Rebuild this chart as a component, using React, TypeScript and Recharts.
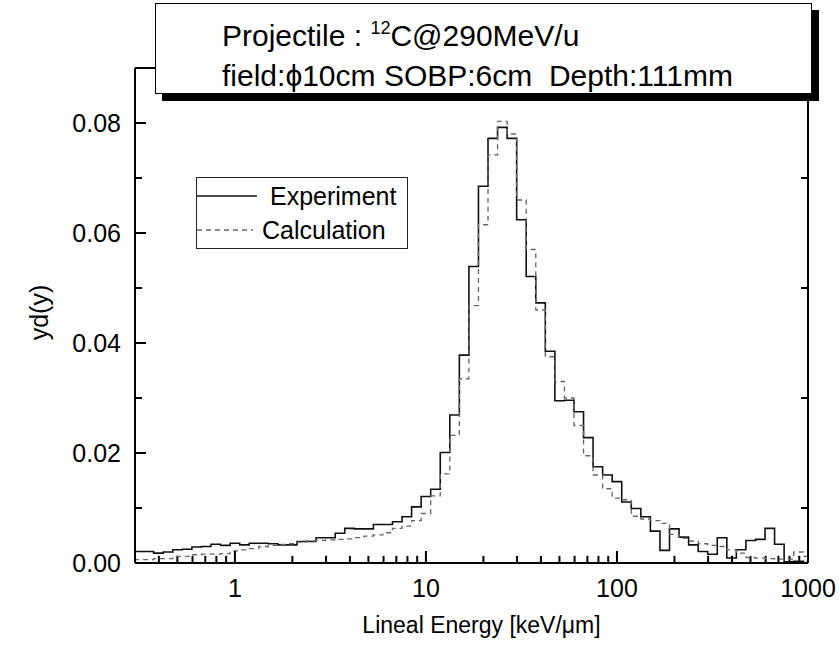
import React from "react";
import { ComposedChart, Legend, Line, ReferenceLine, XAxis, YAxis } from "recharts";

// histogram bins: 20 per decade, bin k centred on 10^(k/20)
const BINS_PER_DECADE = 20;
const FIRST_BIN = -11;

const experiment = [
  0.0021, 0.0021, 0.0021, 0.0018, 0.002, 0.0024, 0.0025, 0.0029, 0.003, 0.0034, 0.0032,
  0.0036, 0.0033, 0.0036, 0.0036, 0.0035, 0.0033, 0.0033, 0.0039, 0.0039, 0.0046,
  0.0046, 0.0054, 0.0063, 0.0062, 0.0062, 0.007, 0.007, 0.0075, 0.0084, 0.0102,
  0.0121, 0.0134, 0.0201, 0.0269, 0.0378, 0.0539, 0.0685, 0.0772, 0.0792, 0.0772,
  0.0624, 0.0521, 0.0473, 0.0385, 0.0295, 0.0296, 0.0275, 0.0228, 0.0175, 0.016,
  0.0148, 0.0111, 0.0099, 0.0084, 0.0058, 0.0023, 0.0062, 0.0047, 0.0033, 0.0021,
  0.0016, 0.0046, 0.0009, 0.0024, 0.0041, 0.0043, 0.0063, 0.0034, 0.0002, 0.0003,
  0.0001,
];

const calculation = [
  0.0006, 0.0006, 0.0006, 0.0008, 0.0008, 0.0012, 0.0012, 0.0015, 0.0016, 0.0016, 0.0017,
  0.0022, 0.0024, 0.0026, 0.003, 0.0032, 0.0034, 0.0035, 0.0038, 0.004, 0.0041,
  0.0042, 0.0043, 0.0044, 0.0046, 0.0049, 0.0051, 0.0055, 0.0063, 0.0067, 0.0077,
  0.009, 0.0122, 0.0162, 0.0232, 0.0335, 0.0468, 0.0615, 0.0742, 0.0803, 0.078,
  0.066, 0.057, 0.046, 0.0375, 0.033, 0.03, 0.025, 0.0195, 0.016, 0.0135,
  0.0118, 0.0115, 0.0085, 0.008, 0.0077, 0.0072, 0.0052, 0.0045, 0.004, 0.0035,
  0.0032, 0.003, 0.0024, 0.0018, 0.001, 0.0009, 0.0008, 0.0007, 0.0007, 0.002,
  0.0012,
];

const legendOrder = ["Experiment", "Calculation"];
const X_DOMAIN: [number, number] = [0.3, 1000];
const Y_DOMAIN: [number, number] = [0, 0.09];
const xMajorTicks = [1, 10, 100, 1000];
const xMinorMultipliers = [2, 3, 4, 5, 6, 7, 8, 9];
const yMajorTicks = [0, 0.02, 0.04, 0.06, 0.08];
const yMinorTicks = [0.01, 0.03, 0.05, 0.07];

const FONT = '"Liberation Sans", Arial, sans-serif';

// minor tick lengths in data units (plot is 495px tall, 673px / 3.52 decades wide)
const MINOR_Y_LEN = 0.0013;
const MINOR_X_FACTOR = 1.088;

const binEdge = (i: number) => 10 ** ((FIRST_BIN + i - 0.5) / BINS_PER_DECADE);

// step points at left bin edges, plus closing right edge
function toSteps(values: number[]) {
  const pts = values.map((y, i) => ({ x: binEdge(i), y }));
  pts.push({ x: binEdge(values.length), y: values[values.length - 1] });
  return pts;
}

const expSteps = toSteps(experiment);
const calcSteps = toSteps(calculation);

const xMinorTicks: number[] = [];
[0.1, 1, 10, 100].forEach((d) =>
  xMinorMultipliers.forEach((m) => {
    const v = +(m * d).toPrecision(3);
    if (v >= 0.3) xMinorTicks.push(v);
  })
);

const BottomLabel = (props: any) => {
  const { x, y, payload } = props;
  return (
    <text x={x} y={y + 46} textAnchor="middle" fontSize={25} fontFamily={FONT} fill="#000">
      {payload.value}
    </text>
  );
};

const LeftLabel = (props: any) => {
  const { x, y, payload } = props;
  return (
    <text x={x - 25} y={y + 9} textAnchor="end" fontSize={25} fontFamily={FONT} fill="#000">
      {payload.value.toFixed(2)}
    </text>
  );
};

const XTitle = (props: any) => {
  const { viewBox } = props;
  return (
    <text
      x={viewBox.x + viewBox.width / 2 + 10}
      y={viewBox.y + 70}
      textAnchor="middle"
      fontSize={23}
      fontFamily={FONT}
      fill="#000"
    >
      Lineal Energy [keV/{"\u03bc"}m]
    </text>
  );
};

const YTitle = (props: any) => {
  const { viewBox } = props;
  const cx = viewBox.x + 39;
  const cy = viewBox.y + viewBox.height / 2 - 3;
  return (
    <text
      x={cx}
      y={cy}
      transform={`rotate(-90 ${cx} ${cy})`}
      textAnchor="middle"
      dominantBaseline="central"
      fontSize={25}
      fontFamily={FONT}
      fill="#000"
    >
      yd(y)
    </text>
  );
};

const LegendBox = (props: any) => {
  const payload = [...(props.payload || [])].sort(
    (a: any, b: any) => legendOrder.indexOf(a.value) - legendOrder.indexOf(b.value)
  );
  return (
    <div
      style={{
        width: 212,
        height: 72,
        boxSizing: "border-box",
        border: "1.5px solid #222",
        background: "#fff",
        fontFamily: FONT,
        fontSize: 25,
        color: "#000",
        paddingTop: 1,
      }}
    >
      {payload.map((entry: any, i: number) => (
        <div key={entry.value} style={{ display: "flex", alignItems: "center", height: 34 }}>
          <svg width={i === 0 ? 60 : 56} height={10} style={{ flex: "none" }}>
            <line
              x1={0}
              x2={i === 0 ? 60 : 56}
              y1={5}
              y2={5}
              stroke={entry.color}
              strokeWidth={1.5}
              strokeDasharray={entry.payload?.strokeDasharray}
            />
          </svg>
          <span style={{ marginLeft: i === 0 ? 13 : 9 }}>{entry.value}</span>
        </div>
      ))}
    </div>
  );
};

const frame = { stroke: "#000", strokeWidth: 2 };

export default function App() {
  return (
    <div style={{ position: "absolute", left: 0, top: 0, width: 839, height: 650, background: "#fff" }}>
      <ComposedChart width={839} height={650} margin={{ top: 0, right: 0, bottom: 0, left: 0 }}>
        <XAxis
          dataKey="x"
          type="number"
          scale="log"
          domain={X_DOMAIN}
          allowDataOverflow
          ticks={xMajorTicks}
          interval={0}
          tickSize={-12}
          tickMargin={0}
          height={87}
          tickLine={frame}
          axisLine={frame}
          tick={<BottomLabel />}
          label={<XTitle />}
        />
        <XAxis
          xAxisId="top"
          orientation="top"
          dataKey="x"
          type="number"
          scale="log"
          domain={X_DOMAIN}
          allowDataOverflow
          ticks={xMajorTicks}
          interval={0}
          tickSize={-12}
          height={68}
          tickLine={frame}
          axisLine={frame}
          tick={false}
        />
        <YAxis
          type="number"
          domain={Y_DOMAIN}
          ticks={yMajorTicks}
          interval={0}
          tickSize={-11}
          tickMargin={0}
          width={135}
          tickLine={frame}
          axisLine={frame}
          tick={<LeftLabel />}
          label={<YTitle />}
        />
        <YAxis
          yAxisId="right"
          orientation="right"
          type="number"
          domain={Y_DOMAIN}
          ticks={yMajorTicks}
          interval={0}
          tickSize={-11}
          width={31}
          tickLine={frame}
          axisLine={frame}
          tick={false}
        />
        {xMinorTicks.map((v) => (
          <ReferenceLine
            key={`xb${v}`}
            segment={[{ x: v, y: Y_DOMAIN[0] }, { x: v, y: Y_DOMAIN[0] + MINOR_Y_LEN }]}
            stroke="#000"
            strokeWidth={2}
          />
        ))}
        {xMinorTicks.map((v) => (
          <ReferenceLine
            key={`xt${v}`}
            segment={[{ x: v, y: Y_DOMAIN[1] - MINOR_Y_LEN }, { x: v, y: Y_DOMAIN[1] }]}
            stroke="#000"
            strokeWidth={2}
          />
        ))}
        {yMinorTicks.map((v) => (
          <ReferenceLine
            key={`yl${v}`}
            segment={[{ x: X_DOMAIN[0], y: v }, { x: X_DOMAIN[0] * MINOR_X_FACTOR, y: v }]}
            stroke="#000"
            strokeWidth={2}
          />
        ))}
        {yMinorTicks.map((v) => (
          <ReferenceLine
            key={`yr${v}`}
            segment={[{ x: X_DOMAIN[1] / MINOR_X_FACTOR, y: v }, { x: X_DOMAIN[1], y: v }]}
            stroke="#000"
            strokeWidth={2}
          />
        ))}
        <Legend
          layout="vertical"
          align="center"
          verticalAlign="middle"
          content={<LegendBox />}
          wrapperStyle={{ left: 196, top: 177, width: 212, height: 72 }}
        />
        <Line
          data={expSteps}
          dataKey="y"
          name="Experiment"
          type="stepAfter"
          stroke="#111"
          strokeWidth={1.6}
          dot={false}
          activeDot={false}
          isAnimationActive={false}
        />
        <Line
          data={calcSteps}
          dataKey="y"
          name="Calculation"
          type="stepAfter"
          stroke="#666"
          strokeWidth={1.3}
          strokeDasharray="5 4"
          dot={false}
          activeDot={false}
          isAnimationActive={false}
        />
      </ComposedChart>
      <div
        style={{
          position: "absolute",
          left: 155,
          top: 3,
          width: 657,
          height: 91,
          boxSizing: "border-box",
          border: "1.5px solid #000",
          background: "#fff",
          boxShadow: "7px 7px 0 #000",
          fontFamily: FONT,
          fontSize: 30,
          lineHeight: "35px",
          color: "#000",
          paddingLeft: 66,
          paddingTop: 14,
          zIndex: 2,
          whiteSpace: "pre",
        }}
      >
        <div>
          Projectile :{" "}
          <span style={{ fontSize: 18, position: "relative", top: -12 }}>12</span>C@290MeV/u
        </div>
        <div>field:{"\u03d5"}10cm SOBP:6cm  Depth:111mm</div>
      </div>
    </div>
  );
}
